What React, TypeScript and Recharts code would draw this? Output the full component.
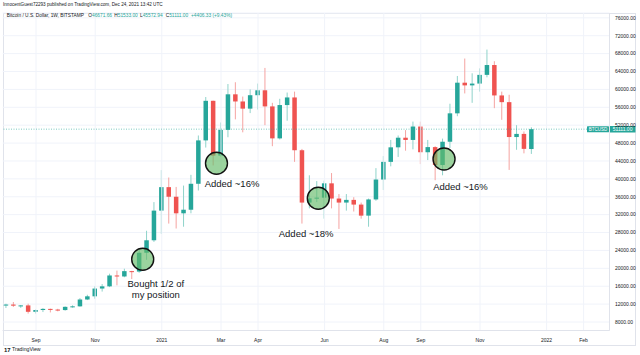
import React from "react";
import {
  ComposedChart,
  Bar,
  XAxis,
  YAxis,
  CartesianGrid,
  ReferenceLine,
  ReferenceDot,
} from "recharts";

const FONT = '"Liberation Sans", Arial, sans-serif';
const UP = "#26a69a";
const DOWN = "#ef5350";
const UP_WICK = "#8fd3ca";
const DOWN_WICK = "#f5a3a1";
const GRID = "#f0f3fa";
const BORDER = "#e0e3eb";
const TEXT = "#131722";

// BTC/USD weekly candles, first week starts 2020-08-10
const open = [
  11680, 11900, 11650, 11710, 10280, 10680, 10930, 10780, 10670, 11390, 11500, 13030,
  13740, 15480, 15970, 18400, 18180, 19370, 19270, 23480, 26270, 32900, 38150, 36000,
  32300, 33100, 38900, 48600, 57450, 45200, 50950, 58900, 57300, 55700, 58700, 59800,
  56200, 49050, 56500, 58200, 46400, 34700, 35650, 35800, 39000, 35600, 34700, 35300,
  34250, 31780, 35400, 39850, 43800, 47050, 49200, 48700, 51700, 45950, 47100, 43100,
  48300, 54650, 61500, 60900, 61300, 63250, 65450, 58650, 57150, 49350, 50050, 46671.66,
];
const high = [
  12080, 12470, 11800, 12090, 10800, 11100, 10990, 10950, 11490, 11730, 13350, 14090,
  15960, 16480, 18800, 19490, 19920, 19430, 24300, 28400, 34800, 41950, 40300, 38200,
  38500, 40900, 49700, 58300, 57500, 52600, 61200, 61600, 58400, 60000, 61300, 64800,
  57000, 57900, 59300, 59500, 46700, 40800, 39500, 39600, 41300, 36600, 36600, 35900,
  34700, 35600, 42400, 45100, 48700, 49700, 50900, 52800, 52800, 48700, 47300, 49000,
  56800, 63000, 66900, 63600, 64700, 68900, 66300, 59500, 58800, 52000, 50600, 51533,
];
const low = [
  11130, 11370, 11150, 9880, 9880, 10220, 10140, 10380, 10530, 11200, 11420, 12900,
  13200, 14800, 15800, 16200, 18000, 17600, 19000, 21900, 25900, 27700, 30000, 28900,
  29300, 32300, 37400, 47000, 43000, 44900, 49300, 53300, 50400, 54700, 55500, 52000,
  47300, 48800, 53000, 43800, 30000, 33400, 34800, 31100, 33400, 28800, 32900, 32700,
  31100, 29300, 35100, 37500, 42800, 44900, 46300, 46600, 43300, 44200, 39700, 40800,
  46900, 54000, 59100, 57000, 59500, 62700, 55800, 53200, 42000, 46500, 45700, 45572.94,
];
const close = [
  11900, 11650, 11710, 10280, 10680, 10930, 10780, 10670, 11390, 11500, 13030, 13740,
  15480, 15970, 18400, 18180, 19370, 19270, 23480, 26270, 32900, 38150, 36000, 32300,
  33100, 38900, 48600, 57450, 45200, 50950, 58900, 57300, 55700, 58700, 59800, 56200,
  49050, 56500, 58200, 46400, 34700, 35650, 35800, 39000, 35600, 34700, 35300, 34250,
  31780, 35400, 39850, 43800, 47050, 49200, 48700, 51700, 45950, 47100, 43100, 48300,
  54650, 61500, 60900, 61300, 63250, 65450, 58650, 57150, 49350, 50050, 46704.67, 51111,
];

// time axis: weekly slots incl. empty future weeks
const slots = 82;
const timeTickIdx = [4, 12, 21, 29, 34, 43, 51, 56, 64, 73, 78];
const timeTickText = ["Sep", "Nov", "2021", "Mar", "Apr", "Jun", "Aug", "Sep", "Nov", "2022", "Feb"];

const priceTicks = [
  8000, 12000, 16000, 20000, 24000, 28000, 32000, 36000, 40000, 44000, 48000, 52000,
  56000, 60000, 64000, 68000, 72000, 76000,
];
const priceDomain = [6100, 77080];

// annotations (x in weeks from first candle, y in USD)
const noteCircleX = [18.92, 28.89, 42.65, 59.64];
const noteCircleY = [22020, 43485, 35660, 44450];
const noteLines = [["Bought 1/2 of", "my position"], ["Added ~16%"], ["Added ~18%"], ["Added ~16%"]];
const noteTextX = [20.69, 30.99, 41.0, 61.86];
const noteTextY = [15714, 38186, 27006, 37515];

const data = Array.from({ length: slots }, (_, i) =>
  i < open.length ? { i, n: i, o: open[i], h: high[i], l: low[i], c: close[i] } : { i, n: i }
);

const last = open.length - 1;
const lastClose = close[last];
const change = lastClose - close[last - 1];
const changePct = (change / close[last - 1]) * 100;

const Candle = (props: any) => {
  const { x, y, width, height, payload } = props;
  if (payload == null || payload.o == null) return <g />;
  const { o, h, l, c } = payload;
  const up = c >= o;
  const hgt = Math.abs(height);
  const top = Math.min(y, y + height);
  const k = hgt / (h - l);
  const yO = top + (h - o) * k;
  const yC = top + (h - c) * k;
  const bodyTop = Math.min(yO, yC);
  const bodyH = Math.max(Math.abs(yO - yC), 1);
  const cx = x + width / 2;
  return (
    <g>
      <line x1={cx} x2={cx} y1={top} y2={top + hgt} stroke={up ? UP_WICK : DOWN_WICK} strokeWidth={1} />
      <rect x={x} y={bodyTop} width={width} height={bodyH} fill={up ? UP : DOWN} />
    </g>
  );
};

const TimeTick = (props: any) => {
  const { x, y, payload } = props;
  const k = timeTickIdx.indexOf(Number(payload.value));
  if (k < 0) return <g />;
  return (
    <text x={x} y={y + 9.3} textAnchor="middle" fontSize={5} fill={TEXT} fontFamily={FONT}>
      {timeTickText[k]}
    </text>
  );
};

const PriceTick = (props: any) => {
  const { x, y, payload } = props;
  return (
    <text x={x + 3.5} y={y + 1.8} textAnchor="start" fontSize={5} fill={TEXT} fontFamily={FONT}>
      {Number(payload.value).toFixed(2)}
    </text>
  );
};

const PriceTag = (props: any) => {
  const vb = props.viewBox || {};
  const right = vb.x + vb.width;
  const y = vb.y;
  return (
    <g fontFamily={FONT}>
      <rect x={right - 22.5} y={y - 3} width={22} height={6.2} fill={UP} rx={0.6} />
      <text x={right - 11.5} y={y + 1.7} textAnchor="middle" fontSize={4.5} fill="#fff">
        BTCUSD
      </text>
      <rect x={right} y={y - 3.2} width={26} height={6.6} fill={UP} rx={0.6} />
      <text x={right + 3.2} y={y + 1.8} fontSize={5} fill="#fff">
        {lastClose.toFixed(2)}
      </text>
    </g>
  );
};

const NoteText = (lines: string[]) => (props: any) => {
  const { cx, cy } = props;
  return (
    <text x={cx} y={cy} textAnchor="middle" fontSize={9.5} fill={TEXT} fontFamily={FONT}>
      {lines.map((t, j) => (
        <tspan key={j} x={cx} dy={j === 0 ? 0 : 10.2}>
          {t}
        </tspan>
      ))}
    </text>
  );
};

const abs = (left: number, top: number, extra: any = {}) => ({
  position: "absolute" as const,
  left,
  top,
  whiteSpace: "nowrap" as const,
  ...extra,
});

export default function App() {
  const ohlc = [
    ["O", open[last]],
    ["H", high[last]],
    ["L", low[last]],
    ["C", lastClose],
  ] as [string, number][];
  const ohlcX = [88.3, 114.3, 140, 165.7];
  return (
    <div style={{ position: "absolute", left: 0, top: 0, width: 640, height: 355, background: "#fff", fontFamily: FONT, overflow: "hidden" }}>
      <div style={{ ...abs(2.7, 13), width: 633, height: 332.5, border: `1px solid ${BORDER}`, boxSizing: "border-box" }} />
      <ComposedChart
        width={640}
        height={355}
        data={data}
        margin={{ top: 13, right: 0, bottom: 9.5, left: 2.7 }}
        style={{ position: "absolute", left: 0, top: 0 }}
      >
        <CartesianGrid stroke={GRID} vertical={false} />
        <XAxis
          dataKey="i"
          type="category"
          interval={0}
          tick={<TimeTick />}
          tickLine={false}
          tickSize={0}
          height={15}
          axisLine={{ stroke: BORDER }}
        />
        <XAxis xAxisId="n" dataKey="n" type="number" domain={[0, slots]} allowDataOverflow hide />
        <YAxis
          orientation="right"
          width={30.5}
          domain={priceDomain}
          ticks={priceTicks}
          interval={0}
          allowDataOverflow
          tick={<PriceTick />}
          tickLine={false}
          tickSize={0}
          axisLine={{ stroke: BORDER }}
        />
        {timeTickIdx.map((t) => (
          <ReferenceLine key={"v" + t} xAxisId="n" x={t + 0.5} stroke={GRID} />
        ))}
        <ReferenceLine y={lastClose} stroke={UP} strokeOpacity={0.6} strokeDasharray="1 1.5" label={<PriceTag />} />
        <Bar
          dataKey={(d: any) => (d.o == null ? null : [d.l, d.h])}
          barSize={4.5}
          shape={<Candle />}
          isAnimationActive={false}
        />
        {noteCircleX.map((x, k) => (
          <ReferenceDot
            key={"c" + k}
            xAxisId="n"
            x={x}
            y={noteCircleY[k]}
            r={11}
            fill="#66bb6a"
            fillOpacity={0.65}
            stroke="#111"
            strokeWidth={1.4}
            ifOverflow="visible"
          />
        ))}
        {noteTextX.map((x, k) => (
          <ReferenceDot
            key={"t" + k}
            xAxisId="n"
            x={x}
            y={noteTextY[k]}
            r={1}
            ifOverflow="visible"
            shape={NoteText(noteLines[k])}
          />
        ))}
      </ComposedChart>

      <div style={{ ...abs(3, 3.3), fontSize: 4.6, lineHeight: "4.6px", color: TEXT }}>
        InnocentGuest72293 published on TradingView.com, Dec 24, 2021 13:42 UTC
      </div>
      <div style={{ ...abs(6.7, 14.3), fontSize: 4.8, lineHeight: "4.8px", color: TEXT }}>
        Bitcoin / U.S. Dollar, 1W, BITSTAMP
      </div>
      {ohlc.map(([k, v], j) => (
        <div key={k} style={{ ...abs(ohlcX[j], 14.3), fontSize: 4.8, lineHeight: "4.8px", color: TEXT }}>
          {k}
          <span style={{ color: UP }}>{v.toFixed(2)}</span>
        </div>
      ))}
      <div style={{ ...abs(191, 14.3), fontSize: 4.8, lineHeight: "4.8px", color: UP }}>
        {`+${change.toFixed(2)} (+${changePct.toFixed(2)}%)`}
      </div>
      <div style={{ ...abs(4, 346.5), fontSize: 6, lineHeight: "6px", color: TEXT, fontWeight: 700 }}>17</div>
      <div style={{ ...abs(12, 347), fontSize: 5.2, lineHeight: "5.2px", color: TEXT }}>TradingView</div>
    </div>
  );
}
